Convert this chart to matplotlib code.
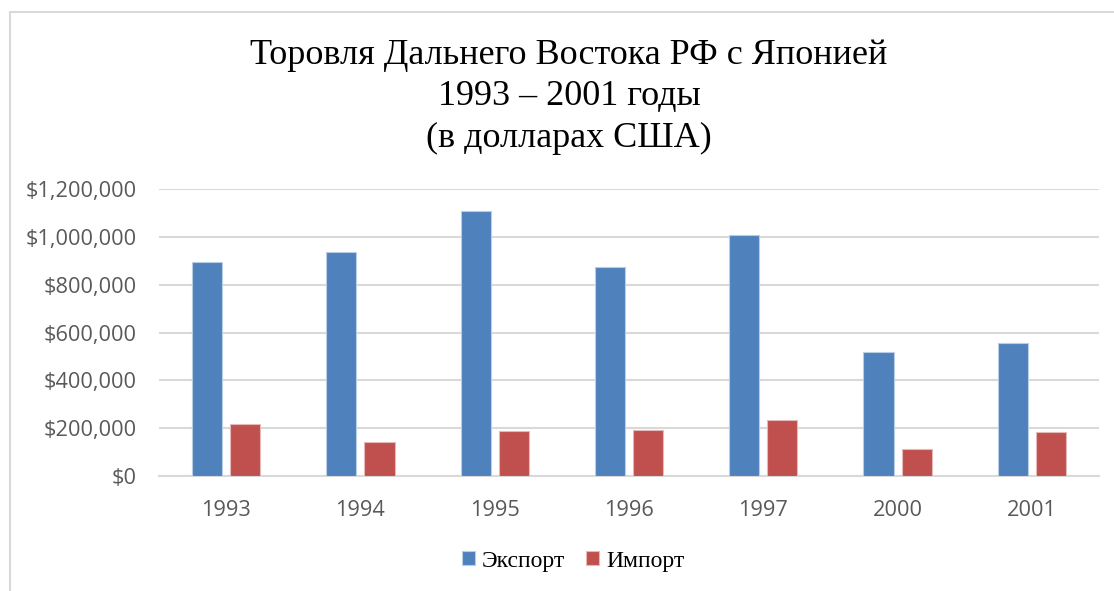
import matplotlib
matplotlib.use('Agg')
import matplotlib.pyplot as plt
import numpy as np
from matplotlib.ticker import FuncFormatter
from matplotlib.patches import Rectangle

# Data
years = ['1993', '1994', '1995', '1996', '1997', '2000', '2001']
export_vals = [895000, 935000, 1108000, 875000, 1009000, 520000, 557000]
import_vals = [219000, 142000, 188000, 191000, 234000, 113000, 183000]

blue = '#4F81BD'
red = '#C0504D'
grid_c = '#D9D9D9'
tick_c = '#595959'
serif = ['Liberation Serif', 'DejaVu Serif']
sans = ['Open Sans', 'DejaVu Sans']

fig = plt.figure(figsize=(11.14, 5.91), dpi=100)
fig.patch.set_facecolor('white')

# chart area border (left and top edges visible)
fig.add_artist(Rectangle((9.5 / 1114, -0.1), 1.2, 1 - 11.5 / 591 + 0.1,
                         transform=fig.transFigure, fill=False,
                         edgecolor=grid_c, linewidth=1.5))

ax = fig.add_axes([159 / 1114, 1 - 476 / 591, 940 / 1114, 287 / 591])

x = np.arange(len(years))
width = 0.225
off = 0.142
ax.bar(x - off, export_vals, width, color=blue, edgecolor='#B9CDE5', linewidth=0.8,
       label='Экспорт', zorder=3)
ax.bar(x + off, import_vals, width, color=red, edgecolor='#E6B9B8', linewidth=0.8,
       label='Импорт', zorder=3)

ax.set_xlim(-0.5, len(years) - 0.5)
ax.set_ylim(0, 1200000)
ax.set_yticks(np.arange(0, 1200001, 200000))
ax.yaxis.set_major_formatter(FuncFormatter(lambda v, p: '${:,.0f}'.format(v)))
ax.set_xticks(x)
ax.set_xticklabels(years)

ax.grid(axis='y', color=grid_c, linewidth=1.5, zorder=0)
ax.grid(axis='x', visible=False)
for s in ['top', 'right', 'left']:
    ax.spines[s].set_visible(False)
ax.spines['bottom'].set_color(grid_c)
ax.spines['bottom'].set_linewidth(1.5)
ax.tick_params(axis='both', length=0, labelcolor=tick_c, labelsize=15.7)
ax.tick_params(axis='y', pad=16)
ax.tick_params(axis='x', pad=17)
for lab in ax.get_xticklabels() + ax.get_yticklabels():
    lab.set_family(sans)

# Title
fig.text(569 / 1114, 1 - 97 / 591,
         'Торовля Дальнего Востока РФ с Японией\n1993 – 2001 годы\n(в долларах США)',
         ha='center', va='center', family=serif, fontsize=26, linespacing=1.33,
         color='black')

leg = fig.legend(loc='center', bbox_to_anchor=(573 / 1114, 1 - 561 / 591),
                 ncol=2, frameon=False, prop={'family': serif, 'size': 17},
                 handlelength=0.55, handleheight=0.55, handletextpad=0.3,
                 columnspacing=0.9)

fig.savefig('out.png', dpi=100, facecolor='white')
